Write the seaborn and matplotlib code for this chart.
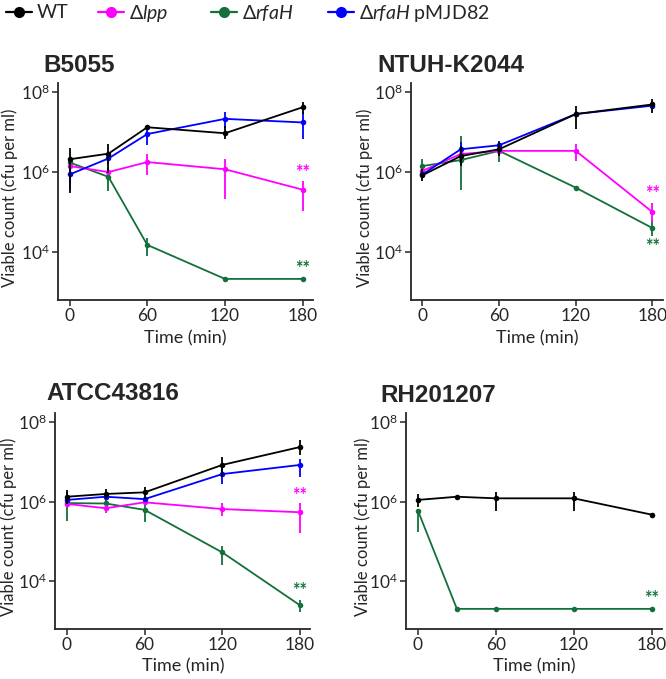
import numpy as np
import pandas as pd
import matplotlib
matplotlib.use("Agg")
import matplotlib.pyplot as plt
import seaborn as sns
from matplotlib.lines import Line2D

# sampling times (min)
TIMES = [0, 30, 60, 120, 180]
SERIES = ["WT", "lpp", "rfaH", "rfaH_pMJD82"]
LABELS = [r"WT", r"$\Delta\mathit{lpp}$", r"$\Delta\mathit{rfaH}$", r"$\Delta\mathit{rfaH}$ pMJD82"]
COLORS = {"WT": "black", "lpp": "#ff00ff", "rfaH": "#13703a", "rfaH_pMJD82": "#0000ff"}

# log10 viable counts (cfu per ml): mean, error-bar low, error-bar high
B5055_MEAN = {"WT": [6.32, 6.46, 7.12, 6.97, 7.62], "lpp": [6.15, 6.0, 6.25, 6.07, 5.56],
              "rfaH": [6.24, 5.88, 4.18, 3.33, 3.33], "rfaH_pMJD82": [5.94, 6.34, 6.95, 7.33, 7.24]}
B5055_LO = {"WT": [5.48, 5.98, 7.07, 6.82, 7.45], "lpp": [5.55, 6.0, 5.92, 5.33, 5.02],
            "rfaH": [6.18, 5.52, 3.90, 3.33, 3.33], "rfaH_pMJD82": [5.73, 6.20, 6.67, 7.09, 6.82]}
B5055_HI = {"WT": [6.59, 6.70, 7.17, 7.16, 7.76], "lpp": [6.36, 6.0, 6.45, 6.32, 5.77],
            "rfaH": [6.30, 6.11, 4.34, 3.33, 3.33], "rfaH_pMJD82": [6.20, 6.45, 7.16, 7.51, 7.51]}

NTUH_MEAN = {"WT": [5.92, 6.40, 6.57, 7.45, 7.69], "lpp": [6.03, 6.45, 6.53, 6.53, 5.00],
             "rfaH": [6.15, 6.30, 6.53, 5.61, 4.60], "rfaH_pMJD82": [5.94, 6.57, 6.67, 7.45, 7.66]}
NTUH_LO = {"WT": [5.77, 6.15, 6.40, 7.08, 7.48], "lpp": [6.00, 6.42, 6.50, 6.28, 4.76],
           "rfaH": [5.94, 5.56, 6.24, 5.61, 4.39], "rfaH_pMJD82": [5.86, 6.40, 6.45, 7.40, 7.60]}
NTUH_HI = {"WT": [6.07, 6.66, 6.74, 7.66, 7.83], "lpp": [6.06, 6.48, 6.56, 6.70, 5.23],
           "rfaH": [6.32, 6.91, 6.66, 5.61, 4.77], "rfaH_pMJD82": [6.02, 6.74, 6.78, 7.50, 7.72]}

ATCC_MEAN = {"WT": [6.12, 6.19, 6.23, 6.92, 7.37], "lpp": [5.94, 5.83, 5.98, 5.81, 5.73],
             "rfaH": [5.96, 5.95, 5.79, 4.72, 3.39], "rfaH_pMJD82": [6.04, 6.12, 6.06, 6.69, 6.92]}
ATCC_LO = {"WT": [5.94, 6.06, 6.06, 6.61, 7.16], "lpp": [5.90, 5.70, 5.94, 5.64, 5.22],
           "rfaH": [5.51, 5.75, 5.48, 4.41, 3.21], "rfaH_pMJD82": [5.98, 6.06, 6.00, 6.43, 6.61]}
ATCC_HI = {"WT": [6.29, 6.31, 6.36, 7.13, 7.54], "lpp": [5.98, 5.90, 6.02, 5.95, 5.95],
           "rfaH": [6.23, 6.06, 5.94, 4.89, 3.52], "rfaH_pMJD82": [6.10, 6.18, 6.12, 6.90, 7.07]}

RH_MEAN = {"WT": [6.04, 6.12, 6.08, 6.08, 5.67], "rfaH": [5.77, 3.30, 3.30, 3.30, 3.30]}
RH_LO = {"WT": [5.87, 6.10, 5.77, 5.77, 5.65], "rfaH": [5.24, 3.30, 3.30, 3.30, 3.30]}
RH_HI = {"WT": [6.20, 6.14, 6.23, 6.25, 5.69], "rfaH": [5.80, 3.30, 3.30, 3.30, 3.30]}

# significance stars at 180 min: (series, log10 y position)
B5055_STARS = [("lpp", 6.0), ("rfaH", 3.59)]
NTUH_STARS = [("lpp", 5.46), ("rfaH", 4.13)]
ATCC_STARS = [("lpp", 6.15), ("rfaH", 3.75)]
RH_STARS = [("rfaH", 3.55)]

# (title, mean, lo, hi, stars, axes rect, title x/y in figure px, ylabel x in axes coords)
PANELS = [
    ("B5055", B5055_MEAN, B5055_LO, B5055_HI, B5055_STARS, [0.087, 0.558, 0.383, 0.320], (43, 72), -0.157),
    ("NTUH-K2044", NTUH_MEAN, NTUH_LO, NTUH_HI, NTUH_STARS, [0.617, 0.558, 0.378, 0.320], (377, 72), -0.152),
    ("ATCC43816", ATCC_MEAN, ATCC_LO, ATCC_HI, ATCC_STARS, [0.083, 0.074, 0.383, 0.318], (46, 400), -0.149),
    ("RH201207", RH_MEAN, RH_LO, RH_HI, RH_STARS, [0.610, 0.074, 0.384, 0.318], (380, 402), -0.137),
]
DRAW_ORDER = ["rfaH", "lpp", "rfaH_pMJD82", "WT"]

sns.set_style("ticks")
FONT = "Lato"
plt.rcParams["font.family"] = [FONT, "DejaVu Sans"]
plt.rcParams["mathtext.fontset"] = "custom"
plt.rcParams["mathtext.rm"] = FONT
plt.rcParams["mathtext.it"] = FONT + ":italic"

W, H = 666, 679
fig = plt.figure(figsize=(W / 100, H / 100), dpi=100)

for title, mean, lo, hi, stars, rect, (tx, ty), ylx in PANELS:
    ax = fig.add_axes(rect)
    rows = []
    for s in mean:
        for t, m in zip(TIMES, mean[s]):
            rows.append({"time": t, "series": s, "count": 10 ** m})
    df = pd.DataFrame(rows)
    order = [s for s in DRAW_ORDER if s in mean]
    for s in order:
        sub = df[df["series"] == s]
        yerr = [10 ** np.array(mean[s]) - 10 ** np.array(lo[s]),
                10 ** np.array(hi[s]) - 10 ** np.array(mean[s])]
        ax.errorbar(TIMES, 10 ** np.array(mean[s]), yerr=yerr, fmt="none",
                    ecolor=COLORS[s], elinewidth=1.3, capsize=0)
        sns.lineplot(data=sub, x="time", y="count", color=COLORS[s], marker="o",
                     markersize=4, markeredgewidth=0, linewidth=1.3, ax=ax, legend=False)
    for s, yv in stars:
        ax.text(180, 10 ** yv, "**", color=COLORS[s], ha="center", va="center",
                fontsize=13, fontweight="bold")
    ax.set_yscale("log")
    ax.set_ylim(10 ** 2.8, 10 ** 8.23)
    ax.set_xlim(-9, 188)
    ax.set_xticks([0, 60, 120, 180])
    ax.set_yticks([1e4, 1e6, 1e8])
    ax.yaxis.set_minor_locator(matplotlib.ticker.NullLocator())
    ax.tick_params(labelsize=12.5, width=1.1, length=4, pad=2)
    for sp in ["left", "bottom"]:
        ax.spines[sp].set_linewidth(1.3)
    sns.despine(ax=ax)
    ax.set_xlabel("Time (min)", fontsize=13, labelpad=4)
    ax.set_ylabel("Viable count (cfu per ml)", fontsize=12)
    ax.yaxis.set_label_coords(ylx, 0.47)
    fig.text(tx / W, 1 - ty / H, title, fontsize=17.5, fontweight="bold",
             family="Liberation Sans", ha="left", va="baseline")

# legend entries placed one by one, as in the source figure
LEGEND_X = [6, 98, 211, 328]
for s, lab, lx in zip(SERIES, LABELS, LEGEND_X):
    h = Line2D([0], [0], color=COLORS[s], marker="o", markersize=7, linewidth=1.6)
    fig.legend([h], [lab], loc="center left", bbox_to_anchor=(lx / W, 1 - 13 / H),
               frameon=False, fontsize=14, handlelength=1.35, handletextpad=0.25,
               borderaxespad=0, borderpad=0)

fig.savefig("out.png", dpi=100)
